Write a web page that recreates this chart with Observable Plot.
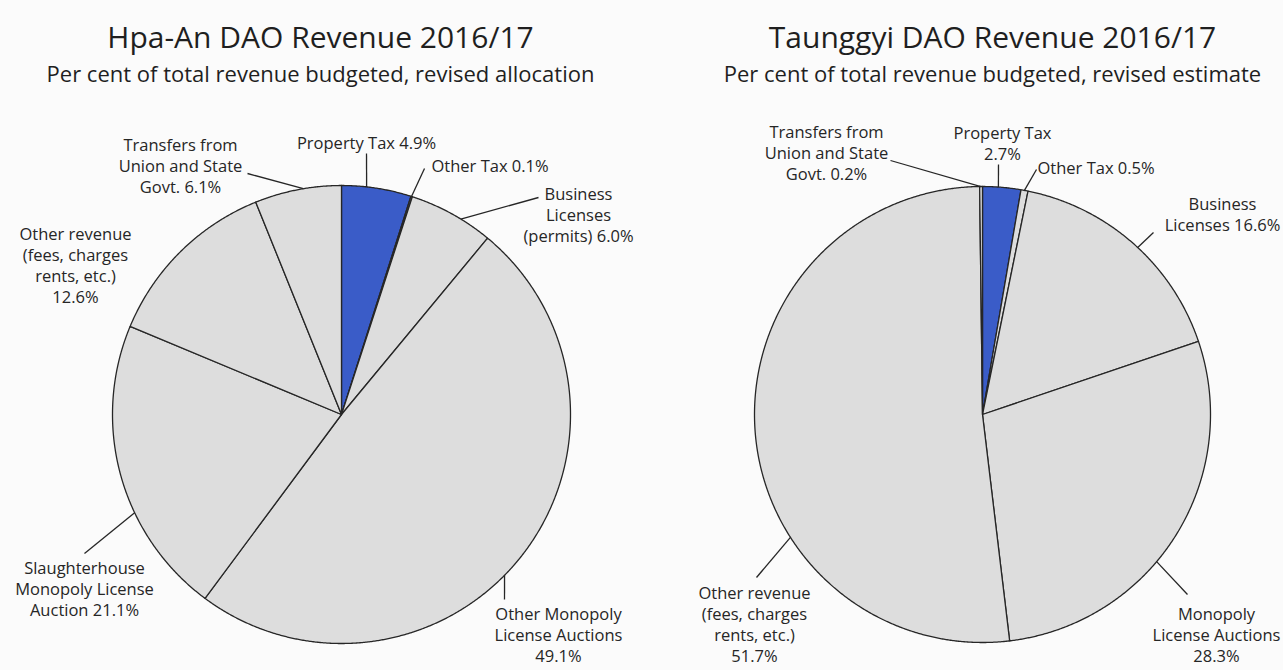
<!DOCTYPE html>
<html>
<head>
<meta charset="utf-8">
<script src="https://cdn.jsdelivr.net/npm/d3@7"></script>
<script src="https://cdn.jsdelivr.net/npm/@observablehq/plot@0.6"></script>
<style>
  html, body { margin: 0; padding: 0; background: #fbfbfb; }
  #chart { width: 1283px; height: 670px; overflow: hidden; }
</style>
</head>
<body>
<div id="chart"></div>
<script>
// ---------- DATA ----------
const hpaTitle = "Hpa-An DAO Revenue 2016/17";
const hpaSubtitle = "Per cent of total revenue budgeted, revised allocation";
const hpaCategories = [
  "Property Tax", "Other Tax", "Business Licenses (permits)",
  "Other Monopoly License Auctions", "Slaughterhouse Monopoly License Auction",
  "Other revenue (fees, charges rents, etc.)", "Transfers from Union and State Govt."
];
const hpaValues = [4.9, 0.1, 6.0, 49.1, 21.1, 12.6, 6.1];
const hpaLabels = [
  "Property Tax 4.9%", "Other Tax 0.1%", "Business\nLicenses\n(permits) 6.0%",
  "Other Monopoly\nLicense Auctions\n49.1%", "Slaughterhouse\nMonopoly License\nAuction 21.1%",
  "Other revenue\n(fees, charges\nrents, etc.)\n12.6%", "Transfers from\nUnion and State\nGovt. 6.1%"
];

const tgTitle = "Taunggyi DAO Revenue 2016/17";
const tgSubtitle = "Per cent of total revenue budgeted, revised estimate";
const tgCategories = [
  "Property Tax", "Other Tax", "Business Licenses", "Monopoly License Auctions",
  "Other revenue (fees, charges rents, etc.)", "Transfers from Union and State Govt."
];
const tgValues = [2.7, 0.5, 16.6, 28.3, 51.7, 0.2];
const tgLabels = [
  "Property Tax\n2.7%", "Other Tax 0.5%", "Business\nLicenses 16.6%",
  "Monopoly\nLicense Auctions\n28.3%", "Other revenue\n(fees, charges\nrents, etc.)\n51.7%",
  "Transfers from\nUnion and State\nGovt. 0.2%"
];

const highlightedCategories = ["Property Tax"];

// ---------- LAYOUT (positions / styles) ----------
const W = 1283, H = 670;
const BLUE = "#3a5cc8", GRAY = "#dddddd", INK = "#262626";
const FONT = "'Open Sans', 'Noto Sans', sans-serif";
const LABEL_SIZE = 16.5, LINE_PX = 21;
const TITLE_SIZE = 30, SUB_SIZE = 22;

// label layout per slice: tx, ty (centre of first line), anchor, leader [deg on arc, x2, y2] or null
const hpaLayout = [
  {tx: 366, ty: 142, anchor: "middle", leader: [6.3, 366, 153]},
  {tx: 431, ty: 165, anchor: "start", leader: [17.8, 424, 168]},
  {tx: 578, ty: 193, anchor: "middle", leader: [31.4, 538, 197]},
  {tx: 558, ty: 613, anchor: "middle", leader: [134.6, 504, 599]},
  {tx: 84, ty: 567, anchor: "middle", leader: [244.6, 84, 553]},
  {tx: 75, ty: 233, anchor: "middle", leader: null},
  {tx: 180, ty: 144, anchor: "middle", leader: [350.4, 247, 173]}
];
const tgLayout = [
  {tx: 1002, ty: 132, anchor: "middle", leader: [4.0, 998, 164]},
  {tx: 1037, ty: 167, anchor: "start", leader: [10.6, 1036, 169]},
  {tx: 1222, ty: 203, anchor: "middle", leader: [42.9, 1153, 232]},
  {tx: 1216, ty: 613, anchor: "middle", leader: [130.2, 1187, 594]},
  {tx: 754, ty: 592, anchor: "middle", leader: [237.4, 756, 577]},
  {tx: 826, ty: 131, anchor: "middle", leader: [359.6, 890, 160]}
];

const charts = [
  {title: hpaTitle, subtitle: hpaSubtitle, cats: hpaCategories, vals: hpaValues, labels: hpaLabels,
   layout: hpaLayout, cx: 341, cy: 414, r: 229, tx: 320},
  {title: tgTitle, subtitle: tgSubtitle, cats: tgCategories, vals: tgValues, labels: tgLabels,
   layout: tgLayout, cx: 982, cy: 414, r: 228, tx: 992}
];

// ---------- BUILD ----------
const slicePts = [];
const labelRows = [];
const leaderRows = [];
const titleRows = [];

charts.forEach((c, ci) => {
  const rows = c.cats.map((name, i) => ({name, value: c.vals[i], i}));
  const arcs = d3.pie().sort(null).value(d => d.value)(rows);
  arcs.forEach(a => {
    const key = ci + "-" + a.data.i;
    const fill = highlightedCategories.includes(a.data.name) ? BLUE : GRAY;
    const n = Math.max(2, Math.ceil((a.endAngle - a.startAngle) / 0.005));
    slicePts.push({key, fill, x: c.cx, y: c.cy});
    for (let k = 0; k <= n; k++) {
      const t = a.startAngle + (a.endAngle - a.startAngle) * k / n;
      slicePts.push({key, fill, x: c.cx + c.r * Math.sin(t), y: c.cy - c.r * Math.cos(t)});
    }
    slicePts.push({key, fill, x: c.cx, y: c.cy});
  });
  c.labels.forEach((text, i) => {
    const L = c.layout[i];
    const nLines = text.split("\n").length;
    labelRows.push({text, x: L.tx, y: L.ty + (nLines - 1) * LINE_PX / 2, anchor: L.anchor});
    if (L.leader) {
      const ang = L.leader[0] * Math.PI / 180;
      leaderRows.push({
        x1: c.cx + c.r * Math.sin(ang), y1: c.cy - c.r * Math.cos(ang),
        x2: L.leader[1], y2: L.leader[2]
      });
    }
  });
  titleRows.push({text: c.title, x: c.tx, y: 38, kind: "title"});
  titleRows.push({text: c.subtitle, x: c.tx, y: 74, kind: "sub"});
});

const plot = Plot.plot({
  width: W, height: H, margin: 0,
  style: {background: "#fbfbfb", fontFamily: FONT, color: INK},
  x: {domain: [0, W], range: [0, W], axis: null},
  y: {domain: [0, H], range: [0, H], axis: null},
  color: {type: "identity"},
  marks: [
    Plot.line(slicePts, {x: "x", y: "y", z: "key", fill: "fill", stroke: INK, strokeWidth: 1.3,
      strokeLinejoin: "round", curve: "linear"}),
    Plot.link(leaderRows, {x1: "x1", y1: "y1", x2: "x2", y2: "y2", stroke: INK, strokeWidth: 1.3}),
    Plot.text(labelRows.filter(d => d.anchor === "middle"), {x: "x", y: "y", text: "text",
      textAnchor: "middle", lineAnchor: "middle", fontSize: LABEL_SIZE, lineHeight: LINE_PX / LABEL_SIZE, fill: INK}),
    Plot.text(labelRows.filter(d => d.anchor === "start"), {x: "x", y: "y", text: "text",
      textAnchor: "start", lineAnchor: "middle", fontSize: LABEL_SIZE, lineHeight: LINE_PX / LABEL_SIZE, fill: INK}),
    Plot.text(titleRows.filter(d => d.kind === "title"), {x: "x", y: "y", text: "text", fontSize: TITLE_SIZE,
      textAnchor: "middle", lineAnchor: "middle", fill: "#1f1f1f"}),
    Plot.text(titleRows.filter(d => d.kind === "sub"), {x: "x", y: "y", text: "text", fontSize: SUB_SIZE,
      textAnchor: "middle", lineAnchor: "middle", fill: "#1f1f1f"})
  ]
});
document.getElementById("chart").appendChild(plot);
</script>
</body>
</html>
